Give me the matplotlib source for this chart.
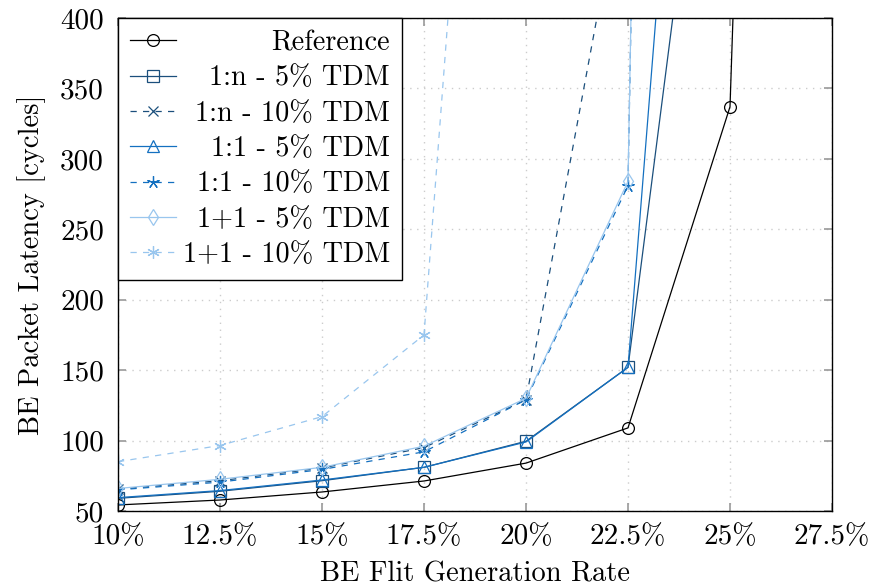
import numpy as np
import matplotlib
matplotlib.use("Agg")
import matplotlib.pyplot as plt

plt.rcParams['font.family'] = ['cmr10', 'DejaVu Serif']
plt.rcParams['mathtext.fontset'] = 'cm'
plt.rcParams['axes.formatter.use_mathtext'] = True
plt.rcParams['lines.scale_dashes'] = False

rates = [10, 12.5, 15, 17.5, 20, 22.5, 25, 27.5]
x_tick_labels = ["10%", "12.5%", "15%", "17.5%", "20%", "22.5%", "25%", "27.5%"]
y_ticks = [50, 100, 150, 200, 250, 300, 350, 400]

reference   = [54.3, 57.8, 63.5, 71.3, 84, 109, 337, 2500]
n_5tdm      = [59, 64, 71.5, 81, 99.5, 152, 717, np.nan]
n_10tdm     = [65.5, 71.5, 80.5, 95, 129, 519, np.nan, np.nan]
one_5tdm    = [59.5, 64.5, 72, 81, 99, 152, 1060, np.nan]
one_10tdm   = [65, 70.5, 79.5, 92, 129, 281, 4300, np.nan]
pp_5tdm     = [66, 72.5, 81, 96, 130, 284, 4300, np.nan]
pp_10tdm    = [85, 96.5, 117, 175, 1132, np.nan, np.nan, np.nan]

labels = ["Reference", "1:n - 5% TDM", "1:n - 10% TDM", "1:1 - 5% TDM",
          "1:1 - 10% TDM", "1+1 - 5% TDM", "1+1 - 10% TDM"]

dark = "#1b4f7c"
mid = "#1470c0"
light = "#99c6ee"
FS_TICK = 21
FS_LAB = 20.5
FS_LEG = 20.3

fig = plt.figure(figsize=(8.7, 5.87), dpi=100)
ax = fig.add_axes([118/870, 1-511/587, (832-118)/870, (511-18)/587])

dash = (0, (4.5, 4.5))
ms = 8.5
lw = 0.9
series = [
    (reference, dict(color="black", ls="-", marker="o", mfc="none", ms=ms)),
    (n_5tdm, dict(color=dark, ls="-", marker="s", mfc="none", ms=ms)),
    (n_10tdm, dict(color=dark, ls=dash, marker="x", ms=7)),
    (one_5tdm, dict(color=mid, ls="-", marker="^", mfc="none", ms=ms)),
    (one_10tdm, dict(color=mid, ls=dash, marker=(5, 2, 0), ms=9)),
    (pp_5tdm, dict(color=light, ls="-", marker="d", mfc="none", ms=ms)),
    (pp_10tdm, dict(color=light, ls=dash, marker=(6, 2, 0), ms=9)),
]
handles = []
for (vals, kw), lab in zip(series, labels):
    h, = ax.plot(rates, vals, lw=lw, mew=0.9, label=lab, **kw)
    handles.append(h)

ax.set_xlim(10, 27.5)
ax.set_ylim(50, 400)
ax.set_xticks(rates)
ax.set_xticklabels(x_tick_labels)
ax.set_yticks(y_ticks)
ax.set_yticklabels([str(v) for v in y_ticks])
ax.tick_params(direction="in", length=6, width=1.2, color="#999999",
               top=True, right=True, labelsize=FS_TICK)
ax.tick_params(axis="x", pad=9)
ax.tick_params(axis="y", pad=10)
ax.grid(True, ls=(0, (1, 4)), color="#cccccc", lw=1)
for s in ax.spines.values():
    s.set_linewidth(1.0)
ax.set_xlabel("BE Flit Generation Rate", fontsize=FS_LAB, labelpad=8)
ax.set_ylabel("BE Packet Latency [cycles]", fontsize=FS_LAB, labelpad=10)

leg = ax.legend(handles=handles, loc="upper left", fontsize=FS_LEG, frameon=True,
                fancybox=False, edgecolor="black", framealpha=1,
                borderaxespad=0.0, handlelength=1.65, labelspacing=0.32,
                handletextpad=0.22, borderpad=0.42)
leg.get_frame().set_linewidth(1.0)

# right-align legend text (pgfplots style)
fig.canvas.draw()
renderer = fig.canvas.get_renderer()
column = leg._legend_handle_box.get_children()[0]
items = column.get_children()
dpicor = renderer.points_to_pixels(1.)
widths = []
for it in items:
    ch = it.get_children()
    w = sum(c.get_bbox(renderer).width for c in ch) + it.sep * dpicor
    widths.append(w)
W = max(widths)
for it in items:
    it.mode = "expand"
    it.width = W

fig.savefig("out.png", dpi=100)
